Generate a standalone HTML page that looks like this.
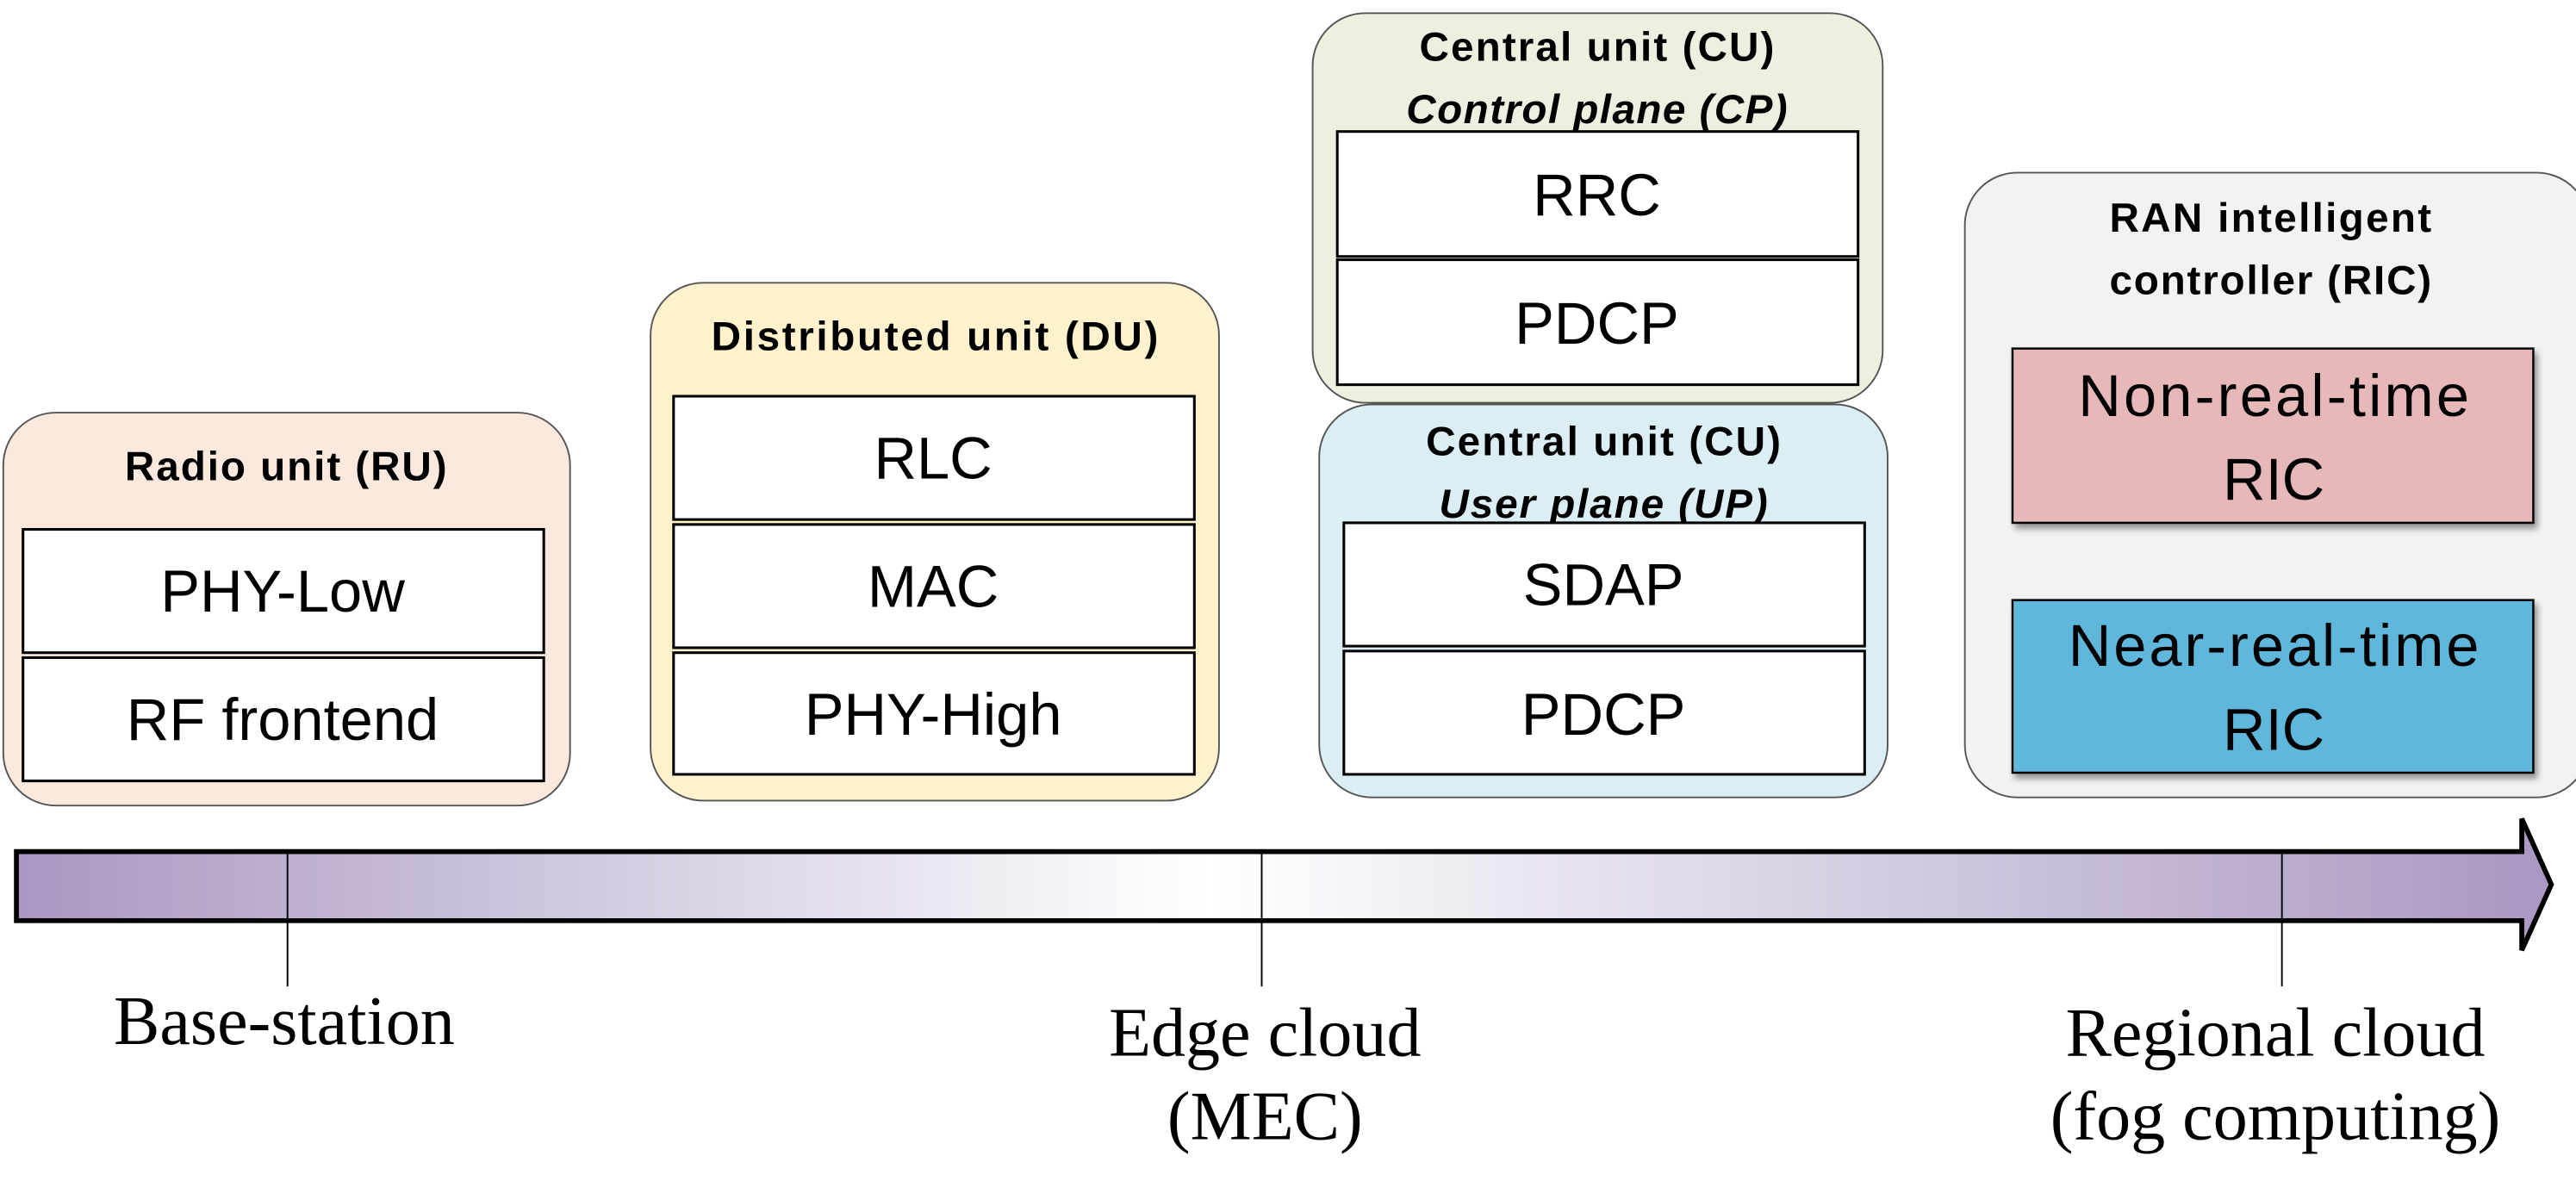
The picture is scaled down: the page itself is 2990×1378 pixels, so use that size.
<!DOCTYPE html>
<html><head><meta charset="utf-8"><style>
html,body{margin:0;padding:0;background:#fff;}
svg{display:block}
.t{font-family:"Liberation Sans","DejaVu Sans",sans-serif;font-weight:bold;font-size:25px;text-anchor:middle;fill:#000}
.b{font-family:"Liberation Sans","DejaVu Sans",sans-serif;font-size:36px;text-anchor:middle;fill:#000}
.s{font-family:"Liberation Serif",serif;font-size:42px;text-anchor:middle;fill:#000}
.box{fill:#fff;stroke:#000;stroke-width:1.6}
</style></head><body>
<svg width="2990" height="1378" viewBox="0 0 1568 722" preserveAspectRatio="none">
<defs>
<linearGradient id="g" x1="10" x2="1553" y1="0" y2="0" gradientUnits="userSpaceOnUse">
<stop offset="0" stop-color="#a998c2"/>
<stop offset="0.47" stop-color="#ffffff"/>
<stop offset="1" stop-color="#a998c2"/>
</linearGradient>
<filter id="sh" x="-5%" y="-5%" width="115%" height="125%"><feDropShadow dx="2" dy="3" stdDeviation="2" flood-opacity="0.4"/></filter>
</defs>
<!-- RU -->
<rect x="2" y="251" width="345" height="239" rx="32" fill="#fbe9dd" stroke="#555" stroke-width="1"/>
<text class="t" x="174" y="292" textLength="196">Radio unit (RU)</text>
<rect class="box" x="14" y="322" width="317" height="75"/><text class="b" x="172" y="372">PHY-Low</text>
<rect class="box" x="14" y="400" width="317" height="75"/><text class="b" x="172" y="450">RF frontend</text>
<!-- DU -->
<rect x="396" y="172" width="346" height="315" rx="32" fill="#fff2cc" stroke="#555" stroke-width="1"/>
<text class="t" x="569" y="213" textLength="272">Distributed unit (DU)</text>
<rect class="box" x="410" y="241" width="317" height="75"/><text class="b" x="568" y="291">RLC</text>
<rect class="box" x="410" y="319" width="317" height="75"/><text class="b" x="568" y="369">MAC</text>
<rect class="box" x="410" y="397" width="317" height="74"/><text class="b" x="568" y="447">PHY-High</text>
<!-- CU CP -->
<rect x="799" y="8" width="347" height="237" rx="32" fill="#ebf1de" stroke="#555" stroke-width="1"/>
<text class="t" x="972" y="37" textLength="216">Central unit (CU)</text>
<text class="t" x="972" y="75" font-style="italic" textLength="232">Control plane (CP)</text>
<rect class="box" x="814" y="80" width="317" height="76"/><text class="b" x="972" y="131">RRC</text>
<rect class="box" x="814" y="158" width="317" height="76"/><text class="b" x="972" y="209">PDCP</text>
<!-- CU UP -->
<rect x="803" y="246" width="346" height="239" rx="32" fill="#dbeef4" stroke="#555" stroke-width="1"/>
<text class="t" x="976" y="277" textLength="216">Central unit (CU)</text>
<text class="t" x="976" y="315" font-style="italic" textLength="200">User plane (UP)</text>
<rect class="box" x="818" y="318" width="317" height="75"/><text class="b" x="976" y="368">SDAP</text>
<rect class="box" x="818" y="396" width="317" height="75"/><text class="b" x="976" y="447">PDCP</text>
<!-- RIC -->
<rect x="1196" y="105" width="380" height="380" rx="32" fill="#f2f2f2" stroke="#555" stroke-width="1"/>
<text class="t" x="1382" y="141" textLength="196">RAN intelligent</text>
<text class="t" x="1382" y="179" textLength="196">controller (RIC)</text>
<rect x="1225" y="212" width="317" height="106" fill="#e6b8b7" stroke="#000" stroke-width="1.3" filter="url(#sh)"/>
<text class="b" x="1384" y="253" textLength="238">Non-real-time</text><text class="b" x="1384" y="304">RIC</text>
<rect x="1225" y="365" width="317" height="105" fill="#5eb8dc" stroke="#000" stroke-width="1.3" filter="url(#sh)"/>
<text class="b" x="1384" y="405" textLength="250">Near-real-time</text><text class="b" x="1384" y="456">RIC</text>
<!-- arrow -->
<path d="M10,518 L1535,518 L1535,498 L1553,538 L1535,578 L1535,560 L10,560 Z" fill="url(#g)" stroke="#000" stroke-width="3"/>
<line x1="175" y1="519" x2="175" y2="600" stroke="#000" stroke-width="1"/>
<line x1="768" y1="519" x2="768" y2="600" stroke="#000" stroke-width="1"/>
<line x1="1389" y1="519" x2="1389" y2="600" stroke="#000" stroke-width="1"/>
<text class="s" x="173" y="635">Base-station</text>
<text class="s" x="770" y="642">Edge cloud</text>
<text class="s" x="770" y="693">(MEC)</text>
<text class="s" x="1385" y="642">Regional cloud</text>
<text class="s" x="1385" y="693">(fog computing)</text>
</svg>
</body></html>
